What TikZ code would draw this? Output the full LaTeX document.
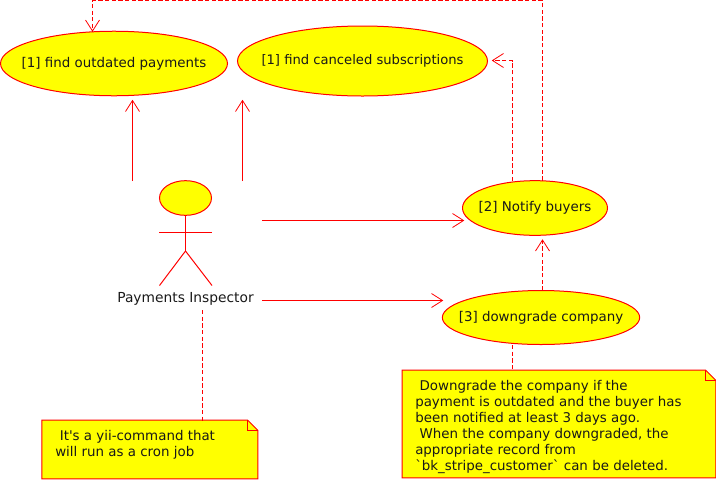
\documentclass[tikz,border=0pt]{standalone}
\usepackage{fontspec}
\newfontfamily\uifont{DejaVu Sans}
\usetikzlibrary{shapes.geometric,calc}
\definecolor{lineR}{RGB}{255,0,0}
\definecolor{fillY}{RGB}{255,255,0}
\pgfarrowsdeclare{openvee}{openvee}{\pgfarrowsleftextend{-8.25pt}\pgfarrowsrightextend{0pt}}{%
  \pgfsetdash{}{0pt}\pgfsetlinewidth{0.6pt}%
  \pgfpathmoveto{\pgfpoint{-8.25pt}{5.25pt}}\pgfpathlineto{\pgfpointorigin}\pgfpathlineto{\pgfpoint{-8.25pt}{-5.25pt}}\pgfusepathqstroke}
\tikzset{
  every node/.style={font=\uifont\fontsize{10.05pt}{12pt}\selectfont,text=black!90},
  usecase/.style={ellipse,draw=lineR,fill=fillY,line width=0.75pt,inner sep=0pt},
  assoc/.style={draw=lineR,line width=0.75pt,-openvee},
  dep/.style={draw=lineR,line width=0.75pt,dash pattern=on 3.2pt off 1.8pt,-openvee},
  link/.style={draw=lineR,line width=0.75pt,dash pattern=on 3.2pt off 1.8pt},
  limb/.style={draw=lineR,line width=0.75pt},
  notebody/.style={draw=lineR,fill=fillY,line width=0.75pt,line join=miter},
  notetext/.style={align=left,inner sep=0pt,anchor=north west},
}
\begin{document}
\begin{tikzpicture}[x=0.75pt,y=-0.75pt]
\useasboundingbox (0,0) rectangle (716,479);
% use cases
\node[usecase,minimum width=170.25pt,minimum height=48.4pt,label={center:[1] find outdated payments}] (uc1) at (114,63.5) {};
\node[usecase,minimum width=187.5pt,minimum height=52.5pt,label={[font=\uifont\fontsize{9.85pt}{12pt}\selectfont]center:[1] find canceled subscriptions}] (uc2) at (362.5,61) {};
\node[usecase,minimum width=108.75pt,minimum height=41pt,label={center:[2] Notify buyers}] (uc3) at (535,208) {};
\node[usecase,minimum width=148pt,minimum height=40.5pt,label={center:[3] downgrade company}] (uc4) at (541,317.5) {};
% actor
\node[usecase,minimum width=39pt,minimum height=26pt] (ahead) at (185.5,198) {};
\coordinate (hip) at (185.5,251);
\coordinate (armL) at (159,232.5);
\coordinate (armR) at (212,232.5);
\coordinate (legL) at (159.5,285.5);
\coordinate (legR) at (212,285.5);
\draw[limb] (ahead.south) -- (hip);
\draw[limb] (armL) -- (armR);
\draw[limb] (legL) -- (hip) -- (legR);
\node[font=\uifont\fontsize{10.35pt}{12pt}\selectfont] (actor) at (185.5,298.5) {Payments Inspector};
% notes
\node[minimum width=161.6pt,minimum height=43.5pt,inner sep=0pt] (n1) at (149.75,449.5) {};
\draw[notebody] (n1.north west) -- ($(n1.north east)+(-10,0)$) -- ($(n1.north east)+(0,10)$) -- (n1.south east) -- (n1.south west) -- cycle;
\draw[notebody,fill=none] ($(n1.north east)+(-10,0)$) -- ($(n1.north east)+(-10,10)$) -- ($(n1.north east)+(0,10)$);
\node[notetext] (t1) at (55,430.5) {\hspace*{3.4pt}It's a yii-command that\\will run as a cron job};
\node[minimum width=234.75pt,minimum height=80.25pt,inner sep=0pt] (n2) at (559,424) {};
\draw[notebody] (n2.north west) -- ($(n2.north east)+(-10,0)$) -- ($(n2.north east)+(0,10)$) -- (n2.south east) -- (n2.south west) -- cycle;
\draw[notebody,fill=none] ($(n2.north east)+(-10,0)$) -- ($(n2.north east)+(-10,10)$) -- ($(n2.north east)+(0,10)$);
\node[notetext] (t2) at (415,380.5) {\hspace*{3.2pt}Downgrade the company if the\\payment is outdated and the buyer has\\been notified at least 3 days ago.\\\hspace*{3.2pt}When the company downgraded, the\\appropriate record from\\`bk\_stripe\_customer` can be deleted.};
% free ends
\coordinate (a1s) at (132.5,181);
\coordinate (a1e) at (132.5,100.5);
\coordinate (a2s) at (242.5,181);
\coordinate (a2e) at (242.5,100.5);
\coordinate (a3s) at (262,220.5);
\coordinate (a3e) at (463.5,220.5);
\coordinate (a4s) at (262,300.5);
\coordinate (a4e) at (442.5,300.5);
\coordinate (d1s) at (512.5,181);
\coordinate (d1m) at (512.5,60.5);
\coordinate (d1e) at (492.5,60.5);
\coordinate (d2s) at (542.5,180.5);
\coordinate (d2a) at (542.5,0.5);
\coordinate (d2b) at (92.5,0.5);
\coordinate (d2e) at (92.5,31);
\coordinate (d3s) at (542.5,290.5);
\coordinate (d3e) at (542.5,240);
\coordinate (l1s) at (202.5,310);
\coordinate (l1e) at (202.5,420.5);
\coordinate (l2s) at (512.5,345);
\coordinate (l2e) at (512.5,370.5);
% connectors
\draw[assoc] (a1s) -- (a1e);
\draw[assoc] (a2s) -- (a2e);
\draw[assoc] (a3s) -- (a3e);
\draw[assoc] (a4s) -- (a4e);
\draw[dep] (d1s) -- (d1m) -- (d1e);
\draw[dep] (d2s) -- (d2a) -- (d2b) -- (d2e);
\draw[dep] (d3s) -- (d3e);
\draw[link] (l1s) -- (l1e);
\draw[link] (l2s) -- (l2e);
\end{tikzpicture}
\end{document}
